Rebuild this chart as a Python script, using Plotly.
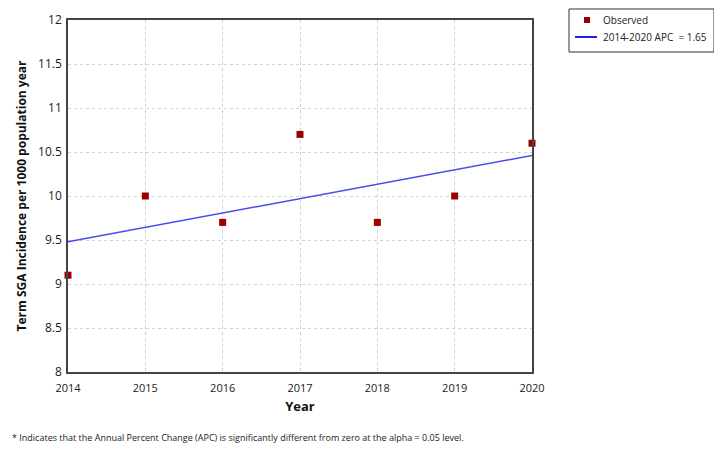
import plotly.graph_objects as go

years = [2014, 2015, 2016, 2017, 2018, 2019, 2020]
observed = [9.1, 10.0, 9.7, 10.7, 9.7, 10.0, 10.6]
fit_years = [2014, 2020]
fit_values = [9.48, 10.46]
y_ticks = [8, 8.5, 9, 9.5, 10, 10.5, 11, 11.5, 12]
y_ticktext = ["8", "8.5", "9", "9.5", "10", "10.5", "11", "11.5", "12"]

FONT = "Open Sans"
OFF = 8  # page body margin
W, H = 722 - OFF, 452 - OFF
L, R, T, B = 68 - OFF, 190, 20 - OFF, 80
PW, PH = W - L - R, H - T - B


def px(x):
    return (x - OFF - L) / PW


def py(y):
    return (H - B - (y - OFF)) / PH


fig = go.Figure()
fig.add_trace(go.Scatter(
    x=years, y=observed, mode="markers", name="Observed",
    marker=dict(symbol="square", size=7, color="#9b0000"),
    cliponaxis=False, showlegend=False,
))
fig.add_trace(go.Scatter(
    x=fit_years, y=fit_values, mode="lines", name="2014-2020 APC  = 1.65",
    line=dict(color="#4a4af0", width=1.5), showlegend=False,
))

fig.update_layout(
    width=W, height=H,
    margin=dict(l=L, r=R, t=T, b=B, autoexpand=False),
    plot_bgcolor="white", paper_bgcolor="white",
    font=dict(family=FONT, size=12, color="#222222"),
    showlegend=False,
    xaxis=dict(
        range=[2014, 2020], tickvals=years, ticktext=[str(y) for y in years],
        showgrid=True, gridcolor="#d2d2d2", griddash="dot", gridwidth=1,
        showline=True, linecolor="#444444", linewidth=1.5, mirror=True,
        zeroline=False, ticks="", tickfont=dict(size=11), automargin=False,
        ticklabelstandoff=5,
        title=dict(text="<b>Year</b>", font=dict(size=13, color="#111111"), standoff=8),
    ),
    yaxis=dict(
        range=[8, 12], tickvals=y_ticks, ticktext=y_ticktext,
        showgrid=True, gridcolor="#d2d2d2", griddash="dot", gridwidth=1,
        showline=True, linecolor="#444444", linewidth=1.5, mirror=True,
        zeroline=False, ticks="", tickfont=dict(size=12), automargin=False,
        ticklabelstandoff=2,
        title=dict(text="<b>Term SGA Incidence per 1000 population year</b>",
                   font=dict(size=12, color="#111111"), standoff=9),
    ),
)

# manual legend box
shapes = [
    dict(type="rect", xref="paper", yref="paper",
         x0=px(569), x1=px(714), y0=py(52), y1=py(9),
         line=dict(color="#333333", width=1), fillcolor="white"),
    dict(type="rect", xref="paper", yref="paper",
         x0=px(584), x1=px(590), y0=py(23), y1=py(17),
         line=dict(width=0), fillcolor="#9b0000"),
    dict(type="line", xref="paper", yref="paper",
         x0=px(575), x1=px(597), y0=py(37), y1=py(37),
         line=dict(color="#2020e0", width=2)),
]
fig.update_layout(shapes=shapes)
fig.add_annotation(text="Observed", xref="paper", yref="paper",
                   x=px(601), y=py(20), xanchor="left", yanchor="middle",
                   showarrow=False, font=dict(family=FONT, size=10, color="#222222"))
fig.add_annotation(text="2014-2020 APC  = 1.65", xref="paper", yref="paper",
                   x=px(601), y=py(37), xanchor="left", yanchor="middle",
                   showarrow=False, font=dict(family=FONT, size=10, color="#222222"))

fig.add_annotation(
    text="* Indicates that the Annual Percent Change (APC) is significantly different from zero at the alpha = 0.05 level.",
    xref="paper", yref="paper", x=px(10), y=py(437), xanchor="left", yanchor="middle",
    showarrow=False, font=dict(family=FONT, size=9, color="#222222"),
)

fig.write_html("out.html")
